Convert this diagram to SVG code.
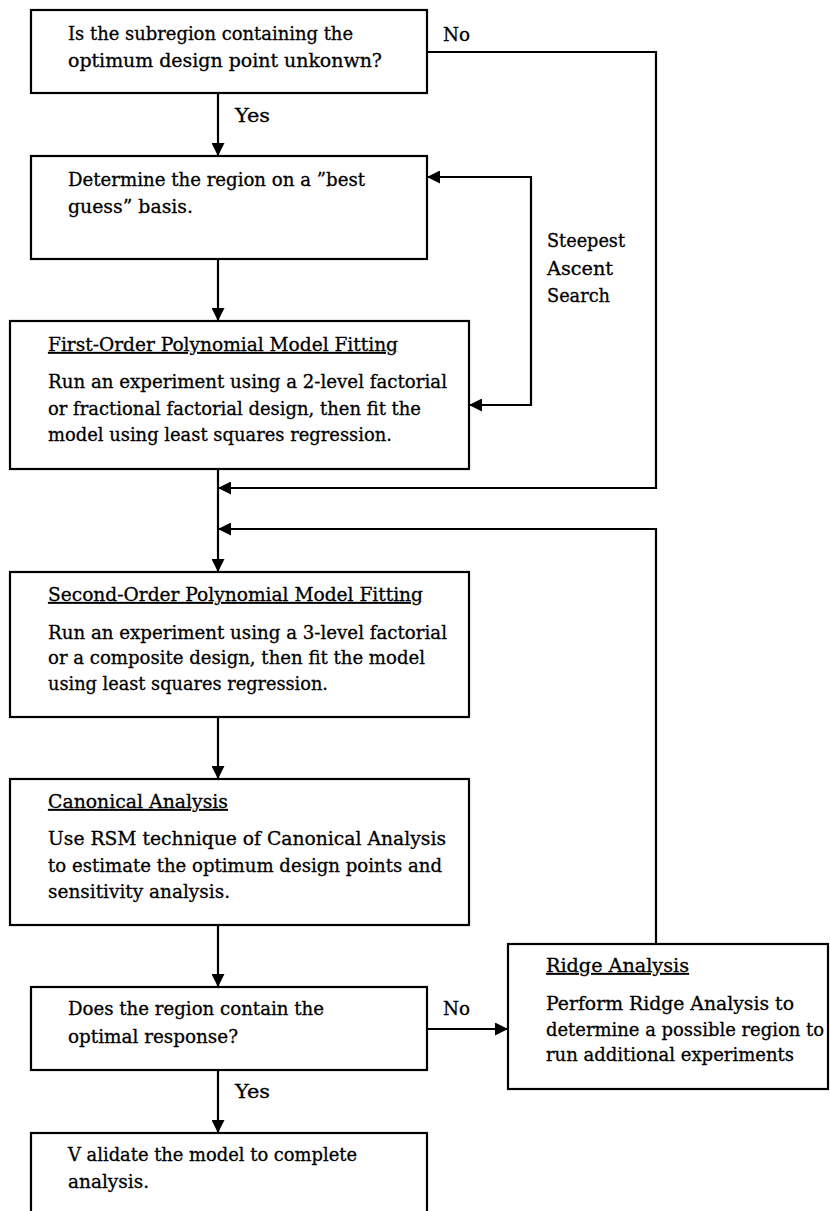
<svg xmlns="http://www.w3.org/2000/svg" width="830" height="1211" viewBox="0 0 830 1211">
<style>
.box{fill:#fff;stroke:#000;stroke-width:2.2}
.t{font-family:"DejaVu Serif","Liberation Serif",serif;font-size:18px;fill:#000;stroke:#000;stroke-width:0.3}
.u{text-decoration:underline}
.c{fill:none;stroke:#000;stroke-width:2.2}
</style>
<defs>
<marker id="ah" markerUnits="userSpaceOnUse" markerWidth="13" markerHeight="13" refX="12" refY="6.5" orient="auto-start-reverse">
<path d="M0,0 L13,6.5 L0,13 z" fill="#000"/>
</marker>
</defs>
<rect width="830" height="1211" fill="#fff"/>
<g id="connectors">
<path class="c" d="M218,93 V155" marker-end="url(#ah)"/>
<path class="c" d="M218,259 V320" marker-end="url(#ah)"/>
<path class="c" d="M218,469 V571" marker-end="url(#ah)"/>
<path class="c" d="M427,52 H656 V488 H219" marker-end="url(#ah)"/>
<path class="c" d="M428,177 H531 V405 H470" marker-start="url(#ah)" marker-end="url(#ah)"/>
<path class="c" d="M218,717 V778" marker-end="url(#ah)"/>
<path class="c" d="M218,925 V986" marker-end="url(#ah)"/>
<path class="c" d="M218,1070 V1132" marker-end="url(#ah)"/>
<path class="c" d="M427,1029 H507" marker-end="url(#ah)"/>
<path class="c" d="M656,944 V529 H219" marker-end="url(#ah)"/>
<text class="t" x="443" y="41" textLength="27" lengthAdjust="spacingAndGlyphs">No</text>
<text class="t" x="235" y="122" textLength="35" lengthAdjust="spacingAndGlyphs">Yes</text>
<text class="t" x="547" y="247" textLength="78" lengthAdjust="spacingAndGlyphs">Steepest</text>
<text class="t" x="547" y="275" textLength="66" lengthAdjust="spacingAndGlyphs">Ascent</text>
<text class="t" x="547" y="302" textLength="63" lengthAdjust="spacingAndGlyphs">Search</text>
<text class="t" x="443" y="1015" textLength="27" lengthAdjust="spacingAndGlyphs">No</text>
<text class="t" x="235" y="1098" textLength="35" lengthAdjust="spacingAndGlyphs">Yes</text>
</g>
<g id="n1">
<rect class="box" x="31" y="10" width="396" height="83"/>
<text class="t" x="68" y="40" textLength="285" lengthAdjust="spacingAndGlyphs">Is the subregion containing the</text>
<text class="t" x="68" y="67" textLength="314" lengthAdjust="spacingAndGlyphs">optimum design point  unkonwn?</text>
</g>
<g id="n2">
<rect class="box" x="31" y="156" width="396" height="103"/>
<text class="t" x="68" y="186" textLength="297" lengthAdjust="spacingAndGlyphs">Determine the region on a ”best</text>
<text class="t" x="68" y="213" textLength="125" lengthAdjust="spacingAndGlyphs">guess” basis.</text>
</g>
<g id="n3">
<rect class="box" x="10" y="321" width="459" height="148"/>
<text class="t u" x="48" y="351" textLength="350" lengthAdjust="spacingAndGlyphs">First-Order Polynomial Model Fitting</text>
<text class="t" x="48" y="388" textLength="399" lengthAdjust="spacingAndGlyphs">Run an experiment using a 2-level factorial</text>
<text class="t" x="48" y="415" textLength="373" lengthAdjust="spacingAndGlyphs">or fractional factorial design, then fit the</text>
<text class="t" x="48" y="441" textLength="344" lengthAdjust="spacingAndGlyphs">model using least squares regression.</text>
</g>
<g id="n4">
<rect class="box" x="10" y="572" width="459" height="145"/>
<text class="t u" x="48" y="601" textLength="375" lengthAdjust="spacingAndGlyphs">Second-Order Polynomial Model Fitting</text>
<text class="t" x="48" y="639" textLength="399" lengthAdjust="spacingAndGlyphs">Run an experiment using a 3-level factorial</text>
<text class="t" x="48" y="664" textLength="377" lengthAdjust="spacingAndGlyphs">or a composite design, then fit the model</text>
<text class="t" x="48" y="690" textLength="280" lengthAdjust="spacingAndGlyphs">using least squares regression.</text>
</g>
<g id="n5">
<rect class="box" x="10" y="779" width="459" height="146"/>
<text class="t u" x="48" y="808" textLength="180" lengthAdjust="spacingAndGlyphs">Canonical Analysis</text>
<text class="t" x="48" y="845" textLength="398" lengthAdjust="spacingAndGlyphs">Use RSM technique of Canonical Analysis</text>
<text class="t" x="48" y="872" textLength="394" lengthAdjust="spacingAndGlyphs">to estimate the optimum design points and</text>
<text class="t" x="48" y="898" textLength="182" lengthAdjust="spacingAndGlyphs">sensitivity analysis.</text>
</g>
<g id="n6">
<rect class="box" x="31" y="987" width="396" height="83"/>
<text class="t" x="68" y="1015" textLength="256" lengthAdjust="spacingAndGlyphs">Does the region contain the</text>
<text class="t" x="68" y="1043" textLength="170" lengthAdjust="spacingAndGlyphs">optimal response?</text>
</g>
<g id="n7">
<rect class="box" x="31" y="1133" width="396" height="95"/>
<text class="t" x="68" y="1161" textLength="289" lengthAdjust="spacingAndGlyphs">V alidate the model to complete</text>
<text class="t" x="68" y="1188" textLength="81" lengthAdjust="spacingAndGlyphs">analysis.</text>
</g>
<g id="n8">
<rect class="box" x="508" y="944" width="320" height="145"/>
<text class="t u" x="546" y="972" textLength="143" lengthAdjust="spacingAndGlyphs">Ridge Analysis</text>
<text class="t" x="546" y="1010" textLength="248" lengthAdjust="spacingAndGlyphs">Perform Ridge Analysis to</text>
<text class="t" x="546" y="1036" textLength="278" lengthAdjust="spacingAndGlyphs">determine a possible region to</text>
<text class="t" x="546" y="1061" textLength="248" lengthAdjust="spacingAndGlyphs">run additional experiments</text>
</g>
</svg>
